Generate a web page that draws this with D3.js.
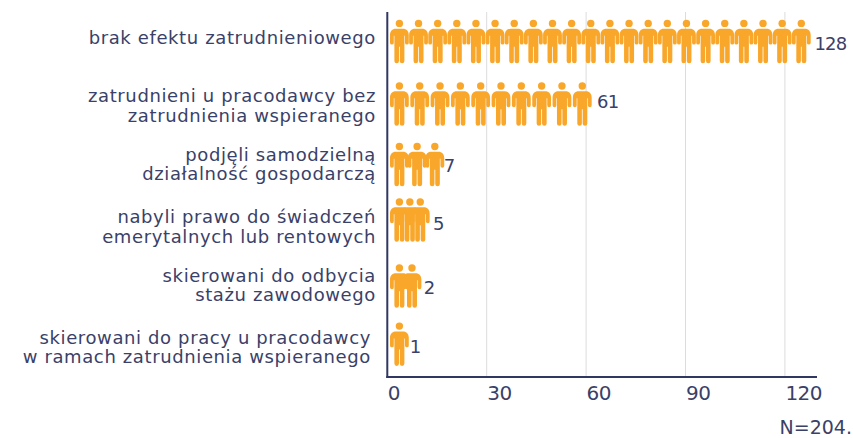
<!DOCTYPE html>
<html><head><meta charset="utf-8">
<script src="https://cdn.jsdelivr.net/npm/d3@7"></script>
<style>html,body{margin:0;background:#fff}svg{display:block}text{font-family:"DejaVu Sans",sans-serif;fill:#3a4168;font-weight:400}</style>
</head><body><div id="c"></div>
<script>
const categories=[
 ["brak efektu zatrudnieniowego"],
 ["zatrudnieni u pracodawcy bez","zatrudnienia wspieranego"],
 ["podjęli samodzielną","działalność gospodarczą"],
 ["nabyli prawo do świadczeń","emerytalnych lub rentowych"],
 ["skierowani do odbycia","stażu zawodowego"],
 ["skierowani do pracy u pracodawcy","w ramach zatrudnienia wspieranego"]];
const values=[128,61,7,5,2,1];
const iconCounts=[22,10,3,3,2,1];
const iconSpans=[121.3,55.2,10.7,6.3,3.8,0];
const valueLabelAt=[128.9,63.3,17,13.8,11,6.8];
const tickValues=[0,30,60,90,120];
const note="N=204.";

const W=853,H=438,axisX=387.3,axisY=377,plotTop=12,firstIcon=3.65;
const rowNudge=[-.9,.8,.5,-4.8,.4,-2.4];
const valueNudge=[8,3.5,7,9.5,7.5,8.5];
const labelNudge=[2.8,-1.7,-3.5,3.3,-4.3,0];
const labelRight=[376,376,376,376,376,371];
const svg=d3.select("#c").append("svg").attr("width",W).attr("height",H);
const x=d3.scaleLinear().domain([0,120]).range([axisX,784.9]);
const y=d3.scaleBand().domain(d3.range(categories.length)).range([plotTop,axisY]);
const cy=i=>y(i)+y.bandwidth()/2+rowNudge[i];

svg.append("g").selectAll("line").data(tickValues.slice(1)).join("line")
 .attr("x1",d=>x(d)).attr("x2",d=>x(d)).attr("y1",plotTop).attr("y2",axisY)
 .attr("stroke","#dcdcdc").attr("stroke-width",1);

const iconG=svg.append("g").attr("fill","#f9a72b");
categories.forEach((c,i)=>{
 d3.range(iconCounts[i]).forEach(k=>{
  const f=iconCounts[i]>1?k/(iconCounts[i]-1):0;
  const px=x(firstIcon+iconSpans[i]*f);
  const g=iconG.append("g").attr("transform",`translate(${px},${cy(i)-21.8})`);
  g.append("circle").attr("cy",3.7).attr("r",3.7);
  g.append("path").attr("d","M-3.5,9 H3.5 C7.3,9 9.4,11.5 9.4,15.5 V23 A1.9,1.9 0 0 1 5.6,23 V16 H5 V41.2 A2.3,2.3 0 0 1 .4,41.2 V27 H-.4 V41.2 A2.3,2.3 0 0 1 -5,41.2 V16 H-5.6 V23 A1.9,1.9 0 0 1 -9.4,23 V15.5 C-9.4,11.5 -7.3,9 -3.5,9 Z");
 });
});

svg.append("g").selectAll("text").data(values).join("text")
 .attr("x",(d,i)=>x(valueLabelAt[i])).attr("y",(d,i)=>cy(i)+valueNudge[i])
 .attr("font-size",18).attr("letter-spacing",-.8).text(d=>d);

categories.forEach((c,i)=>{
 const t=svg.append("text").attr("text-anchor","end").attr("font-size",18).attr("letter-spacing",.62);
 const first=cy(i)+labelNudge[i];
 c.forEach((s,k)=>t.append("tspan").attr("x",labelRight[i]).attr("y",first+k*19.2).text(s));
});

const ax=svg.append("g").attr("transform",`translate(0,${axisY})`)
 .call(d3.axisBottom(x).tickValues(tickValues).tickSize(0).tickPadding(0));
ax.select(".domain").remove();
ax.selectAll("text").attr("text-anchor","start").attr("y",0).attr("dy",0).attr("letter-spacing",-.5)
 .attr("transform","translate(0,23)").style("font-size","20px").style("font-family","DejaVu Sans");

svg.append("line").attr("x1",axisX).attr("x2",axisX).attr("y1",plotTop).attr("y2",axisY+1).attr("stroke","#2f3763").attr("stroke-width",2);
svg.append("line").attr("x1",axisX-1).attr("x2",817).attr("y1",axisY).attr("y2",axisY).attr("stroke","#2f3763").attr("stroke-width",2);
svg.append("text").attr("x",852).attr("y",433.5).attr("text-anchor","end").attr("font-size",19).text(note);
</script></body></html>
